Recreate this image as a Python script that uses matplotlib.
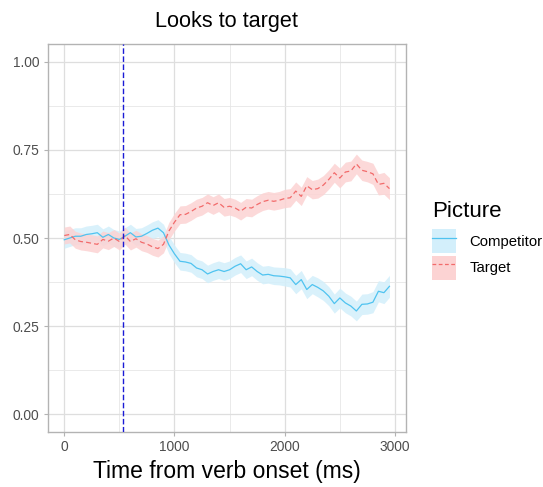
import numpy as np
import matplotlib
matplotlib.use("Agg")
import matplotlib.pyplot as plt
from matplotlib.patches import Patch
from matplotlib.lines import Line2D
from matplotlib.ticker import MultipleLocator

plt.rcParams['font.family'] = ['Liberation Sans', 'DejaVu Sans']

# ---- data ----
time_ms = list(range(0, 3000, 50))
competitor = [0.495, 0.500, 0.505, 0.505, 0.510, 0.512, 0.515, 0.502, 0.510, 0.500,
              0.496, 0.505, 0.515, 0.503, 0.505, 0.513, 0.522, 0.528, 0.515, 0.480,
              0.455, 0.434, 0.432, 0.428, 0.415, 0.410, 0.398, 0.405, 0.410, 0.405,
              0.410, 0.420, 0.427, 0.410, 0.418, 0.405, 0.395, 0.397, 0.393, 0.392,
              0.390, 0.387, 0.368, 0.382, 0.354, 0.368, 0.360, 0.350, 0.335, 0.314,
              0.330, 0.316, 0.307, 0.293, 0.312, 0.313, 0.318, 0.349, 0.345, 0.363]
target = [0.507, 0.510, 0.495, 0.490, 0.488, 0.485, 0.482, 0.496, 0.491, 0.500,
          0.490, 0.507, 0.490, 0.498, 0.488, 0.483, 0.475, 0.470, 0.482, 0.520,
          0.545, 0.566, 0.567, 0.575, 0.585, 0.590, 0.600, 0.592, 0.600, 0.587,
          0.590, 0.585, 0.576, 0.587, 0.585, 0.595, 0.603, 0.607, 0.604, 0.607,
          0.612, 0.614, 0.633, 0.618, 0.648, 0.637, 0.640, 0.650, 0.666, 0.685,
          0.670, 0.687, 0.690, 0.710, 0.692, 0.688, 0.682, 0.652, 0.655, 0.640]
ribbon_se = [0.024, 0.024, 0.024, 0.024, 0.024, 0.024, 0.024, 0.024, 0.024, 0.024,
             0.024, 0.024, 0.024, 0.024, 0.024, 0.024, 0.024, 0.024, 0.024, 0.025,
             0.025, 0.025, 0.025, 0.025, 0.025, 0.025, 0.025, 0.025, 0.025, 0.025,
             0.025, 0.025, 0.025, 0.025, 0.025, 0.025, 0.025, 0.025, 0.025, 0.025,
             0.026, 0.026, 0.026, 0.026, 0.026, 0.026, 0.027, 0.027, 0.027, 0.027,
             0.028, 0.028, 0.028, 0.028, 0.029, 0.029, 0.030, 0.030, 0.031, 0.031]
verb_marker_ms = 535
series_names = ["Competitor", "Target"]
x_ticks = [0, 1000, 2000, 3000]
y_ticks = [0.00, 0.25, 0.50, 0.75, 1.00]

# ---- styling ----
blue_line = '#4FC3F0'
blue_fill = '#D3EFFB'
red_line = '#F26B6B'
red_fill = '#FCD3D3'

fig = plt.figure(figsize=(5.43, 4.87), dpi=100)
ax = fig.add_axes([48/543, 1-432/487, (405.7-48)/543, (432-44)/487])

t = np.array(time_ms)
c = np.array(competitor)
g = np.array(target)
se = np.array(ribbon_se)

ax.fill_between(t, c - se, c + se, color=blue_fill, alpha=0.85, lw=0, zorder=2)
ax.fill_between(t, g - se, g + se, color=red_fill, alpha=0.85, lw=0, zorder=2)
ax.plot(t, c, color=blue_line, lw=0.9, zorder=3)
ax.plot(t, g, color=red_line, lw=0.9, ls=(0, (4, 2.5)), zorder=3)
ax.axvline(verb_marker_ms, color='#1A1AD6', lw=1.0, ls=(0, (4, 1.8)), zorder=4)

xr = t.max() - t.min()
ax.set_xlim(t.min() - 0.05 * xr, t.max() + 0.05 * xr)
ax.set_ylim(-0.05, 1.05)
ax.set_xticks(x_ticks)
ax.set_yticks(y_ticks)
ax.set_yticklabels([f"{v:.2f}" for v in y_ticks])
ax.xaxis.set_minor_locator(MultipleLocator(500))
ax.yaxis.set_minor_locator(MultipleLocator(0.125))
ax.grid(which='major', color='#DEDEDE', lw=0.9, zorder=0)
ax.grid(which='minor', color='#E6E6E6', lw=0.6, zorder=0)
ax.set_axisbelow(True)
ax.tick_params(which='major', length=3.1, width=0.8, color='#B3B3B3',
               labelcolor='#4D4D4D', labelsize=9.9, pad=3)
ax.tick_params(which='minor', length=0)
for s in ax.spines.values():
    s.set_color('#B3B3B3')
    s.set_linewidth(1.0)

ax.set_title("Looks to target", fontsize=15.6, pad=12)
ax.set_xlabel("Time from verb onset (ms)", fontsize=16.5, labelpad=4)

fig.text(431.7/543, 1-216.7/487, "Picture", fontsize=16, ha='left', va='baseline')
handles = [(Patch(facecolor=blue_fill, edgecolor='none'), Line2D([], [], color=blue_line, lw=0.9)),
           (Patch(facecolor=red_fill, edgecolor='none'), Line2D([], [], color=red_line, lw=0.9, ls=(0, (3, 2))))]
leg = fig.legend(handles, series_names, loc='upper left',
                 bbox_to_anchor=(431.7/543, 1-229.3/487), frameon=False,
                 fontsize=10.7, handlelength=1.62, handleheight=2.11,
                 labelspacing=0.16, handletextpad=0.9, borderaxespad=0, borderpad=0)

fig.savefig("out.png", dpi=100)
